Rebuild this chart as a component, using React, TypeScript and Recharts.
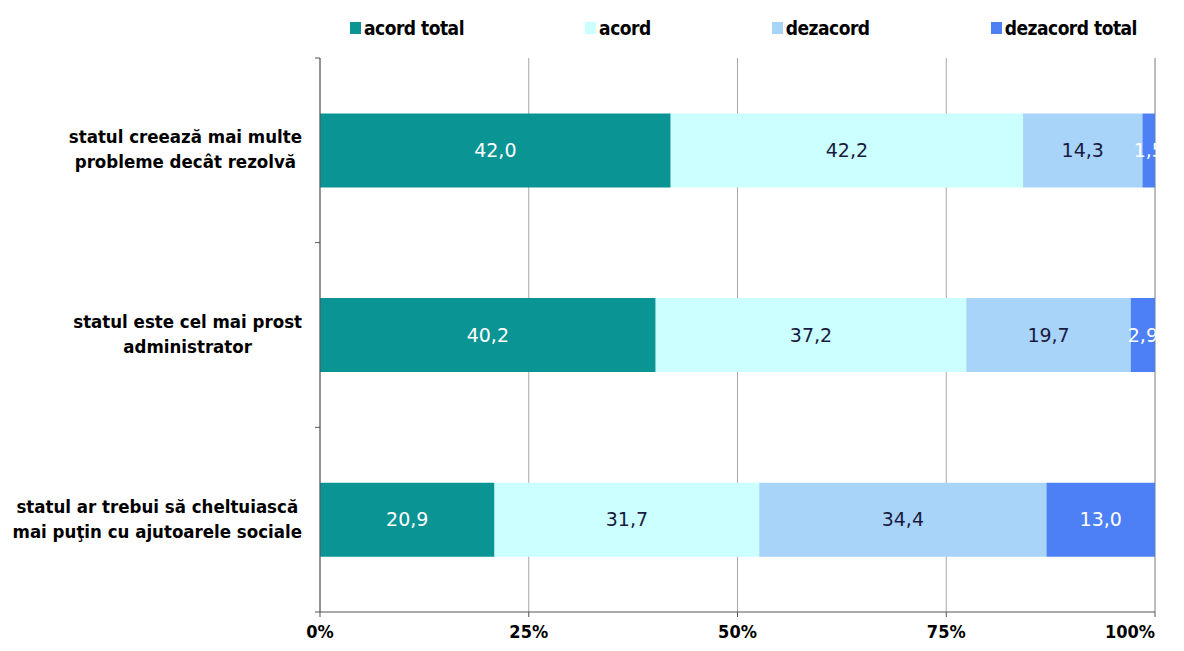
import React from 'react';
import {
  BarChart,
  Bar,
  XAxis,
  YAxis,
  CartesianGrid,
  Legend,
  LabelList,
} from 'recharts';

const categories = [
  'statul creează mai multe\nprobleme decât rezolvă',
  'statul este cel mai prost\nadministrator',
  'statul ar trebui să cheltuiască\nmai puţin cu ajutoarele sociale',
];
const acordTotal = [42.0, 40.2, 20.9];
const acord = [42.2, 37.2, 31.7];
const dezacord = [14.3, 19.7, 34.4];
const dezacordTotal = [1.5, 2.9, 13.0];
const xTicks = [0, 25, 50, 75, 100];
const edgeTicks = [0, 1, 2, 3];

const series = [
  { key: 'acordTotal', name: 'acord total', color: '#0A9494', text: '#FFFFFF' },
  { key: 'acord', name: 'acord', color: '#CCFFFF', text: '#1A1A40' },
  { key: 'dezacord', name: 'dezacord', color: '#A8D4FA', text: '#1A1A40' },
  { key: 'dezacordTotal', name: 'dezacord total', color: '#4D80F5', text: '#FFFFFF' },
];

const data = categories.map((name, i) => ({
  name,
  acordTotal: acordTotal[i],
  acord: acord[i],
  dezacord: dezacord[i],
  dezacordTotal: dezacordTotal[i],
}));

const boldFont = '"DejaVu Sans Condensed", "DejaVu Sans", sans-serif';

let ctx: CanvasRenderingContext2D | null = null;
function measure(text: string, font: string) {
  if (!ctx) ctx = document.createElement('canvas').getContext('2d');
  if (!ctx) return text.length * 9;
  ctx.font = font;
  return ctx.measureText(text).width;
}

const CategoryTick = (props: any) => {
  const { x, y, payload } = props;
  const lines = String(payload.value).split('\n');
  const font = `bold 18.5px ${boldFont}`;
  const maxW = Math.max(...lines.map((l) => measure(l, font)));
  const cx = x - 10 - maxW / 2;
  const first = lines.length > 1 ? -7 : 6;
  return (
    <text
      x={cx}
      y={y}
      textAnchor="middle"
      fill="#000"
      fontFamily={boldFont}
      fontWeight="bold"
      fontSize={18.5}
    >
      {lines.map((l, i) => (
        <tspan key={i} x={cx} y={y + first + i * 25}>
          {l}
        </tspan>
      ))}
    </text>
  );
};

const EmptyTick = () => <g />;

const PercentTick = (props: any) => {
  const { x, y, payload } = props;
  const last = payload.value === xTicks[xTicks.length - 1];
  return (
    <text
      x={x}
      y={y}
      dy="0.71em"
      textAnchor={last ? 'end' : 'middle'}
      fill="#000"
      fontFamily={boldFont}
      fontWeight="bold"
      fontSize={18}
    >
      {`${payload.value}%`}
    </text>
  );
};

const renderLegend = () => (
  <div style={{ height: 50, paddingLeft: 342, paddingTop: 9, boxSizing: 'border-box' }}>
    <div style={{ width: 787, display: 'flex', justifyContent: 'space-between', alignItems: 'center' }}>
      {series.map((s) => (
        <div key={s.key} style={{ display: 'flex', alignItems: 'center' }}>
          <span style={{ width: 11, height: 12, background: s.color, marginRight: 3, display: 'inline-block' }} />
          <span style={{ fontFamily: boldFont, fontWeight: 'bold', fontSize: 19, color: '#000', letterSpacing: -0.5 }}>
            {s.name}
          </span>
        </div>
      ))}
    </div>
  </div>
);

const fmt = (v: any) => Number(v).toFixed(1).replace('.', ',');

export default function App() {
  return (
    <BarChart
      width={1168}
      height={635}
      data={data}
      layout="vertical"
      barCategoryGap="30%"
      margin={{ top: 0, right: 21, left: 0, bottom: 0 }}
    >
      <CartesianGrid horizontal={false} stroke="#A6A6A6" yAxisId="cat" />
      <XAxis
        type="number"
        domain={[0, 100]}
        ticks={xTicks}
        height={31}
        tickSize={5}
        tickMargin={8}
        stroke="#555"
        tick={<PercentTick />}
        interval={0}
      />
      <YAxis
        yAxisId={0}
        type="number"
        dataKey={() => 0}
        domain={[0, edgeTicks.length - 1]}
        allowDataOverflow
        ticks={edgeTicks}
        interval={0}
        reversed
        width={6}
        tickSize={5}
        tick={<EmptyTick />}
        stroke="#555"
      />
      <YAxis
        yAxisId="cat"
        type="category"
        dataKey="name"
        width={306}
        axisLine={false}
        tickLine={false}
        tickSize={0}
        tick={<CategoryTick />}
        interval={0}
      />
      <Legend verticalAlign="top" content={renderLegend} />
      {series.map((s) => (
        <Bar key={s.key} yAxisId="cat" dataKey={s.key} name={s.name} stackId="a" fill={s.color} isAnimationActive={false}>
          <LabelList
            dataKey={s.key}
            position="center"
            formatter={fmt}
            fill={s.text}
            style={{ fontFamily: '"DejaVu Sans", Verdana, sans-serif', fontSize: 19 }}
          />
        </Bar>
      ))}
    </BarChart>
  );
}
